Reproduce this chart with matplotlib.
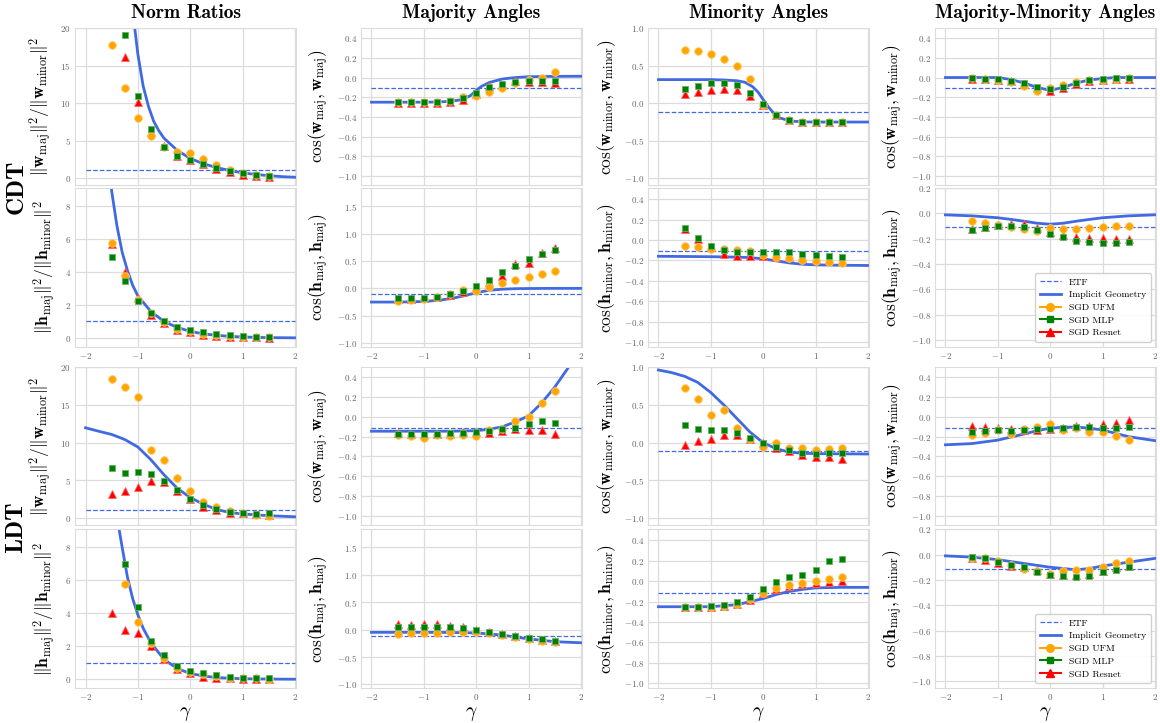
import numpy as np
import matplotlib
matplotlib.use('Agg')
import matplotlib.pyplot as plt
from matplotlib.ticker import MultipleLocator
from matplotlib.lines import Line2D

plt.rcParams['font.family'] = 'serif'
plt.rcParams['font.serif'] = ['cmr10']
plt.rcParams['mathtext.fontset'] = 'cm'
plt.rcParams['axes.formatter.use_mathtext'] = True

# gamma values of the SGD runs
gamma = [-1.5, -1.25, -1.0, -0.75, -0.5, -0.25, 0.0, 0.25, 0.5, 0.75, 1.0, 1.25, 1.5]
etf_ratio = 1.0
etf_cos = -0.111

# ---- CDT, classifier weights ----
cdt_wr_ufm = [17.8, 12.0, 7.95, 5.6, 4.1, 3.5, 3.35, 2.5, 1.75, 1.1, 0.6, 0.4, 0.2]
cdt_wr_mlp = [24.0, 19.1, 11.0, 6.5, 4.15, 3.0, 2.45, 1.9, 1.35, 0.9, 0.6, 0.35, 0.25]
cdt_wr_res = [22.0, 16.2, 10.1, 6.1, 4.3, 2.9, 2.35, 1.8, 1.25, 0.75, 0.45, 0.25, 0.15]
cdt_wr_ig_x = [-1.12, -1.06, -1.0, -0.9, -0.8, -0.7, -0.6, -0.5, -0.25, 0.0, 0.25, 0.5, 0.75, 1.0, 1.25, 1.5, 1.75, 2.0]
cdt_wr_ig_y = [24.0, 20.0, 16.5, 12.3, 9.6, 7.6, 6.3, 5.3, 3.7, 2.6, 1.9, 1.4, 1.0, 0.68, 0.47, 0.3, 0.18, 0.1]

cdt_wmaj_ufm = [-0.25, -0.25, -0.25, -0.25, -0.24, -0.2, -0.187, -0.143, -0.105, -0.054, -0.027, 0.0, 0.054]
cdt_wmaj_mlp = [-0.248, -0.248, -0.25, -0.248, -0.238, -0.21, -0.156, -0.1, -0.068, -0.048, -0.034, -0.034, -0.037]
cdt_wmaj_res = [-0.26, -0.26, -0.26, -0.26, -0.25, -0.225, -0.17, -0.09, -0.075, -0.04, -0.045, -0.05, -0.055]
cdt_wmaj_ig_x = [-2, -1, -0.75, -0.5, -0.25, -0.1, 0, 0.1, 0.25, 0.5, 0.75, 1, 1.5, 2]
cdt_wmaj_ig_y = [-0.25, -0.25, -0.248, -0.242, -0.222, -0.18, -0.13, -0.09, -0.05, -0.015, 0.0, 0.008, 0.012, 0.013]

cdt_wmin_ufm = [0.71, 0.69, 0.66, 0.59, 0.5, 0.32, -0.02, -0.16, -0.22, -0.25, -0.25, -0.25, -0.25]
cdt_wmin_mlp = [0.19, 0.23, 0.27, 0.275, 0.24, 0.14, -0.013, -0.155, -0.22, -0.245, -0.245, -0.245, -0.245]
cdt_wmin_res = [0.12, 0.155, 0.18, 0.195, 0.18, 0.1, -0.02, -0.16, -0.225, -0.25, -0.255, -0.255, -0.255]
cdt_wmin_ig_x = [-2, -1, -0.75, -0.5, -0.35, -0.2, -0.1, 0, 0.1, 0.2, 0.3, 0.5, 0.75, 1, 2]
cdt_wmin_ig_y = [0.315, 0.315, 0.31, 0.3, 0.28, 0.22, 0.15, 0.05, -0.05, -0.13, -0.19, -0.235, -0.248, -0.25, -0.25]

cdt_wmm_ufm = [0.0, -0.01, -0.02, -0.045, -0.09, -0.135, -0.11, -0.08, -0.05, -0.03, -0.02, -0.01, -0.005]
cdt_wmm_mlp = [0.0, -0.01, -0.017, -0.034, -0.06, -0.1, -0.12, -0.1, -0.054, -0.027, -0.017, -0.007, -0.007]
cdt_wmm_res = [-0.01, -0.015, -0.02, -0.04, -0.065, -0.11, -0.135, -0.11, -0.07, -0.04, -0.02, -0.01, -0.01]
cdt_wmm_ig_x = [-2, -1, -0.75, -0.5, -0.25, 0, 0.25, 0.5, 0.75, 1, 1.25, 2]
cdt_wmm_ig_y = [0.0, 0.0, -0.02, -0.055, -0.1, -0.13, -0.1, -0.055, -0.025, -0.01, 0.0, 0.0]

# ---- CDT, features ----
cdt_hr_ufm = [5.77, 3.78, 2.31, 1.53, 0.94, 0.56, 0.44, 0.26, 0.16, 0.1, 0.06, 0.06, 0.03]
cdt_hr_mlp = [4.9, 3.48, 2.27, 1.49, 1.0, 0.64, 0.46, 0.34, 0.24, 0.16, 0.12, 0.08, 0.06]
cdt_hr_res = [5.7, 3.98, 2.45, 1.4, 0.88, 0.5, 0.36, 0.16, 0.1, 0.06, 0.04, 0.03, 0.02]
cdt_hr_ig_x = [-1.52, -1.5, -1.4, -1.3, -1.2, -1.1, -1.0, -0.75, -0.5, -0.25, 0, 0.25, 0.5, 0.75, 1, 1.5, 2]
cdt_hr_ig_y = [9.5, 8.9, 6.8, 5.2, 4.1, 3.2, 2.55, 1.6, 1.0, 0.64, 0.4, 0.25, 0.16, 0.1, 0.06, 0.02, 0.01]

cdt_hmaj_ufm = [-0.23, -0.22, -0.2, -0.15, -0.11, -0.03, -0.05, 0.03, 0.09, 0.15, 0.2, 0.255, 0.32]
cdt_hmaj_mlp = [-0.18, -0.18, -0.17, -0.15, -0.11, -0.05, 0.04, 0.16, 0.29, 0.41, 0.53, 0.63, 0.7]
cdt_hmaj_res = [-0.19, -0.19, -0.18, -0.16, -0.13, -0.06, 0.02, 0.12, 0.23, 0.44, 0.47, 0.64, 0.73]
cdt_hmaj_ig_x = [-2, -1.5, -1, -0.75, -0.5, -0.25, 0, 0.25, 0.5, 0.75, 1, 1.5, 2]
cdt_hmaj_ig_y = [-0.25, -0.25, -0.24, -0.22, -0.19, -0.14, -0.08, -0.035, -0.015, -0.006, -0.003, 0.0, 0.0]

cdt_hmin_ufm = [-0.062, -0.07, -0.085, -0.085, -0.095, -0.108, -0.15, -0.167, -0.18, -0.196, -0.21, -0.22, -0.226]
cdt_hmin_mlp = [0.12, 0.023, -0.06, -0.1, -0.115, -0.12, -0.115, -0.115, -0.118, -0.134, -0.144, -0.154, -0.167]
cdt_hmin_res = [0.105, 0.013, -0.07, -0.134, -0.157, -0.157, -0.16, -0.17, -0.17, -0.18, -0.19, -0.2, -0.21]
cdt_hmin_ig_x = [-2, -1.5, -1, -0.5, -0.25, 0, 0.25, 0.5, 0.75, 1, 1.5, 2]
cdt_hmin_ig_y = [-0.16, -0.162, -0.164, -0.168, -0.173, -0.185, -0.205, -0.225, -0.238, -0.244, -0.248, -0.25]

cdt_hmm_ufm = [-0.06, -0.073, -0.09, -0.105, -0.12, -0.14, -0.113, -0.12, -0.126, -0.118, -0.105, -0.097, -0.097]
cdt_hmm_mlp = [-0.13, -0.113, -0.1, -0.1, -0.107, -0.13, -0.16, -0.19, -0.218, -0.224, -0.232, -0.232, -0.23]
cdt_hmm_res = [-0.12, -0.107, -0.094, -0.086, -0.086, -0.113, -0.147, -0.174, -0.187, -0.192, -0.192, -0.2, -0.205]
cdt_hmm_ig_x = [-2, -1.5, -1, -0.75, -0.5, -0.25, 0, 0.25, 0.5, 0.75, 1, 1.5, 2]
cdt_hmm_ig_y = [-0.012, -0.02, -0.035, -0.048, -0.062, -0.078, -0.086, -0.078, -0.062, -0.048, -0.035, -0.02, -0.012]

# ---- LDT, classifier weights ----
ldt_wr_ufm = [18.5, 17.4, 16.0, 8.97, 7.63, 5.3, 3.6, 2.1, 1.47, 0.94, 0.58, 0.4, 0.27]
ldt_wr_mlp = [6.65, 6.0, 6.07, 5.76, 4.9, 3.7, 2.54, 1.65, 1.16, 0.8, 0.62, 0.54, 0.58]
ldt_wr_res = [3.1, 3.6, 4.15, 4.95, 4.7, 3.5, 2.5, 1.47, 1.0, 0.67, 0.58, 0.45, 0.4]
ldt_wr_ig_x = [-2, -1.75, -1.5, -1.25, -1, -0.75, -0.5, -0.25, 0, 0.25, 0.5, 0.75, 1, 1.5, 2]
ldt_wr_ig_y = [11.96, 11.5, 11.07, 10.4, 9.4, 7.7, 5.7, 3.93, 2.68, 1.8, 1.1, 0.7, 0.5, 0.27, 0.13]

ldt_wmaj_ufm = [-0.187, -0.197, -0.21, -0.187, -0.19, -0.187, -0.19, -0.13, -0.126, -0.04, 0.0, 0.14, 0.265]
ldt_wmaj_mlp = [-0.17, -0.177, -0.177, -0.17, -0.167, -0.16, -0.15, -0.14, -0.122, -0.112, -0.071, -0.037, -0.065]
ldt_wmaj_res = [-0.16, -0.175, -0.175, -0.17, -0.17, -0.15, -0.15, -0.16, -0.14, -0.122, -0.132, -0.132, -0.177]
ldt_wmaj_ig_x = [-2, -1, -0.5, 0, 0.25, 0.5, 0.75, 1, 1.25, 1.5, 1.75, 1.85]
ldt_wmaj_ig_y = [-0.145, -0.145, -0.145, -0.14, -0.125, -0.1, -0.05, 0.01, 0.14, 0.3, 0.49, 0.57]

ldt_wmin_ufm = [0.73, 0.585, 0.366, 0.43, 0.19, 0.05, -0.06, 0.0, -0.076, -0.07, -0.094, -0.08, -0.07]
ldt_wmin_mlp = [0.23, 0.18, 0.174, 0.165, 0.134, 0.067, 0.0, -0.063, -0.1, -0.138, -0.147, -0.138, -0.138]
ldt_wmin_res = [-0.027, 0.018, 0.054, 0.107, 0.107, 0.05, -0.005, -0.07, -0.116, -0.16, -0.19, -0.19, -0.22]
ldt_wmin_ig_x = [-2, -1.75, -1.5, -1.25, -1, -0.75, -0.5, -0.25, 0, 0.25, 0.5, 0.75, 1, 2]
ldt_wmin_ig_y = [0.964, 0.93, 0.88, 0.8, 0.665, 0.5, 0.32, 0.14, 0.0, -0.08, -0.125, -0.14, -0.145, -0.15]

ldt_wmm_ufm = [-0.183, -0.16, -0.133, -0.173, -0.122, -0.1, -0.075, -0.133, -0.115, -0.15, -0.15, -0.194, -0.234]
ldt_wmm_mlp = [-0.15, -0.14, -0.133, -0.14, -0.133, -0.126, -0.12, -0.115, -0.105, -0.1, -0.108, -0.115, -0.105]
ldt_wmm_res = [-0.09, -0.1, -0.115, -0.122, -0.133, -0.133, -0.122, -0.108, -0.09, -0.09, -0.07, -0.058, -0.03]
ldt_wmm_ig_x = [-2, -1.5, -1, -0.5, -0.25, 0, 0.25, 0.5, 0.75, 1, 1.25, 1.5, 2]
ldt_wmm_ig_y = [-0.282, -0.27, -0.235, -0.173, -0.14, -0.115, -0.105, -0.102, -0.115, -0.133, -0.167, -0.2, -0.24]

# ---- LDT, features ----
ldt_hr_ufm = [11.0, 5.8, 3.5, 2.2, 1.3, 0.7, 0.45, 0.3, 0.2, 0.1, 0.05, 0.05, 0.03]
ldt_hr_mlp = [12.0, 7.0, 4.4, 2.3, 1.5, 0.8, 0.5, 0.35, 0.25, 0.15, 0.1, 0.08, 0.06]
ldt_hr_res = [4.0, 3.0, 2.8, 2.0, 1.2, 0.6, 0.35, 0.15, 0.1, 0.05, 0.03, 0.02, 0.02]
ldt_hr_ig_x = [-1.38, -1.3, -1.2, -1.1, -1.0, -0.9, -0.75, -0.5, -0.25, 0, 0.25, 0.5, 1, 1.5, 2]
ldt_hr_ig_y = [9.5, 8.0, 6.2, 4.9, 3.9, 3.1, 2.2, 1.2, 0.65, 0.35, 0.2, 0.1, 0.03, 0.01, 0.0]

ldt_hmaj_ufm = [-0.08, -0.07, -0.07, -0.06, -0.05, -0.05, -0.05, -0.07, -0.1, -0.13, -0.17, -0.2, -0.22]
ldt_hmaj_mlp = [0.04, 0.05, 0.05, 0.05, 0.04, 0.03, 0.0, -0.05, -0.08, -0.12, -0.15, -0.18, -0.2]
ldt_hmaj_res = [0.1, 0.09, 0.1, 0.1, 0.07, 0.05, 0.0, -0.04, -0.08, -0.11, -0.15, -0.19, -0.21]
ldt_hmaj_ig_x = [-2, -1, -0.5, 0, 0.5, 1, 1.5, 2]
ldt_hmaj_ig_y = [-0.05, -0.05, -0.052, -0.06, -0.1, -0.17, -0.22, -0.24]

ldt_hmin_ufm = [-0.25, -0.25, -0.25, -0.24, -0.22, -0.17, -0.12, -0.07, -0.04, -0.02, 0.0, 0.02, 0.04]
ldt_hmin_mlp = [-0.25, -0.25, -0.24, -0.23, -0.2, -0.15, -0.08, -0.01, 0.04, 0.06, 0.11, 0.2, 0.22]
ldt_hmin_res = [-0.25, -0.25, -0.25, -0.24, -0.22, -0.18, -0.12, -0.08, -0.05, -0.03, -0.02, -0.01, 0.0]
ldt_hmin_ig_x = [-2, -1, -0.5, 0, 0.25, 0.5, 0.75, 1, 1.5, 2]
ldt_hmin_ig_y = [-0.25, -0.25, -0.23, -0.17, -0.13, -0.1, -0.08, -0.065, -0.06, -0.06]

ldt_hmm_ufm = [-0.03, -0.03, -0.05, -0.08, -0.11, -0.13, -0.15, -0.13, -0.12, -0.12, -0.1, -0.07, -0.05]
ldt_hmm_mlp = [-0.02, -0.03, -0.06, -0.08, -0.1, -0.14, -0.16, -0.17, -0.18, -0.17, -0.14, -0.12, -0.1]
ldt_hmm_res = [-0.03, -0.04, -0.07, -0.09, -0.1, -0.12, -0.15, -0.16, -0.16, -0.15, -0.13, -0.1, -0.09]
ldt_hmm_ig_x = [-2, -1.5, -1, -0.5, 0, 0.5, 0.75, 1, 1.5, 2]
ldt_hmm_ig_y = [-0.01, -0.02, -0.04, -0.07, -0.1, -0.12, -0.11, -0.09, -0.06, -0.03]

col_titles = ['Norm Ratios', 'Majority Angles', 'Minority Angles', 'Majority-Minority Angles']
row_groups = ['CDT', 'LDT']
ylabels_w = [r'$\|\mathbf{w}_{\rm maj}\|^2/\|\mathbf{w}_{\rm minor}\|^2$',
             r'$\cos(\mathbf{w}_{\rm maj},\mathbf{w}_{\rm maj})$',
             r'$\cos(\mathbf{w}_{\rm minor},\mathbf{w}_{\rm minor})$',
             r'$\cos(\mathbf{w}_{\rm maj},\mathbf{w}_{\rm minor})$']
ylabels_h = [r'$\|\mathbf{h}_{\rm maj}\|^2/\|\mathbf{h}_{\rm minor}\|^2$',
             r'$\cos(\mathbf{h}_{\rm maj},\mathbf{h}_{\rm maj})$',
             r'$\cos(\mathbf{h}_{\rm minor},\mathbf{h}_{\rm minor})$',
             r'$\cos(\mathbf{h}_{\rm maj},\mathbf{h}_{\rm minor})$']

panels = [
    [(cdt_wr_ufm, cdt_wr_mlp, cdt_wr_res, cdt_wr_ig_x, cdt_wr_ig_y),
     (cdt_wmaj_ufm, cdt_wmaj_mlp, cdt_wmaj_res, cdt_wmaj_ig_x, cdt_wmaj_ig_y),
     (cdt_wmin_ufm, cdt_wmin_mlp, cdt_wmin_res, cdt_wmin_ig_x, cdt_wmin_ig_y),
     (cdt_wmm_ufm, cdt_wmm_mlp, cdt_wmm_res, cdt_wmm_ig_x, cdt_wmm_ig_y)],
    [(cdt_hr_ufm, cdt_hr_mlp, cdt_hr_res, cdt_hr_ig_x, cdt_hr_ig_y),
     (cdt_hmaj_ufm, cdt_hmaj_mlp, cdt_hmaj_res, cdt_hmaj_ig_x, cdt_hmaj_ig_y),
     (cdt_hmin_ufm, cdt_hmin_mlp, cdt_hmin_res, cdt_hmin_ig_x, cdt_hmin_ig_y),
     (cdt_hmm_ufm, cdt_hmm_mlp, cdt_hmm_res, cdt_hmm_ig_x, cdt_hmm_ig_y)],
    [(ldt_wr_ufm, ldt_wr_mlp, ldt_wr_res, ldt_wr_ig_x, ldt_wr_ig_y),
     (ldt_wmaj_ufm, ldt_wmaj_mlp, ldt_wmaj_res, ldt_wmaj_ig_x, ldt_wmaj_ig_y),
     (ldt_wmin_ufm, ldt_wmin_mlp, ldt_wmin_res, ldt_wmin_ig_x, ldt_wmin_ig_y),
     (ldt_wmm_ufm, ldt_wmm_mlp, ldt_wmm_res, ldt_wmm_ig_x, ldt_wmm_ig_y)],
    [(ldt_hr_ufm, ldt_hr_mlp, ldt_hr_res, ldt_hr_ig_x, ldt_hr_ig_y),
     (ldt_hmaj_ufm, ldt_hmaj_mlp, ldt_hmaj_res, ldt_hmaj_ig_x, ldt_hmaj_ig_y),
     (ldt_hmin_ufm, ldt_hmin_mlp, ldt_hmin_res, ldt_hmin_ig_x, ldt_hmin_ig_y),
     (ldt_hmm_ufm, ldt_hmm_mlp, ldt_hmm_res, ldt_hmm_ig_x, ldt_hmm_ig_y)],
]

# y-limits and tick step, weights rows / feature rows
ylims_w = [((-0.95, 20), 5), ((-1.09, 0.5), 0.2), ((-1.09, 1.0), 0.5), ((-1.09, 0.5), 0.2)]
ylims_h = [((-0.55, 9.1), 2), ((-1.07, 1.83), 0.5), ((-1.05, 0.51), 0.2), ((-1.055, 0.2), 0.2)]

blue = '#4169E1'
grid_c = '#dcdcdc'

fig = plt.figure(figsize=(11.6, 7.23), dpi=100)
lefts = [0.0647, 0.3112, 0.5586, 0.806]
width = 0.1905
rows = [(0.744, 0.961), (0.520, 0.740), (0.274, 0.492), (0.048, 0.268)]

for r in range(4):
    is_w = (r % 2 == 0)
    for c in range(4):
        bot, top = rows[r]
        ax = fig.add_axes([lefts[c], bot, width, top - bot])
        ufm, mlp, res, igx, igy = panels[r][c]
        (ylo, yhi), step = (ylims_w if is_w else ylims_h)[c]
        etf = etf_ratio if c == 0 else etf_cos

        ax.plot([-2, 2], [etf, etf], ls='--', color=blue, lw=0.9, zorder=2)
        ax.plot(igx, igy, color=blue, lw=2, zorder=2.5)
        ax.plot(gamma, res, ls='none', marker='^', color='red', ms=5.5, mew=0.6, mec='#ff6666', zorder=3)
        ax.plot(gamma, ufm, ls='none', marker='o', color='orange', ms=5.5, mew=0.6, mec='#ffc966', zorder=4)
        ax.plot(gamma, mlp, ls='none', marker='s', color='green', ms=5, mew=0.6, mec='#66b366', zorder=5)

        ax.set_xlim(-2.2, 2.02)
        ax.set_ylim(ylo, yhi)
        ax.xaxis.set_major_locator(MultipleLocator(1))
        ax.yaxis.set_major_locator(MultipleLocator(step))
        ax.grid(True, color=grid_c, lw=0.9)
        ax.set_axisbelow(True)
        for sp in ax.spines.values():
            sp.set_color(grid_c)
        ax.tick_params(length=0, labelsize=6.5, labelcolor='#666666', pad=3)
        if is_w:
            ax.tick_params(labelbottom=False)
        ax.set_ylabel((ylabels_w if is_w else ylabels_h)[c], fontsize=12.5, labelpad=4)
        if r == 0:
            ax.set_title(col_titles[c], family='cmb10', fontsize=14, pad=7)
        if r == 3:
            ax.set_xlabel(r'$\gamma$', fontsize=14, labelpad=2)
        if c == 3 and not is_w:
            handles = [
                Line2D([], [], ls='--', color=blue, lw=0.9),
                Line2D([], [], color=blue, lw=2),
                Line2D([], [], color='orange', marker='o', ms=5.5),
                Line2D([], [], color='green', marker='s', ms=5),
                Line2D([], [], color='red', marker='^', ms=5.5),
            ]
            ax.legend(handles, ['ETF', 'Implicit Geometry', 'SGD UFM', 'SGD MLP', 'SGD Resnet'],
                      loc='lower right', fontsize=7, frameon=True, framealpha=0.9,
                      edgecolor='#cccccc', handlelength=2.2, borderpad=0.5, labelspacing=0.4)

for name, y in zip(row_groups, [0.741, 0.271]):
    fig.text(0.014, y, name, rotation=90, family='cmb10', fontsize=18, ha='center', va='center')

fig.savefig('out.png', dpi=100)
